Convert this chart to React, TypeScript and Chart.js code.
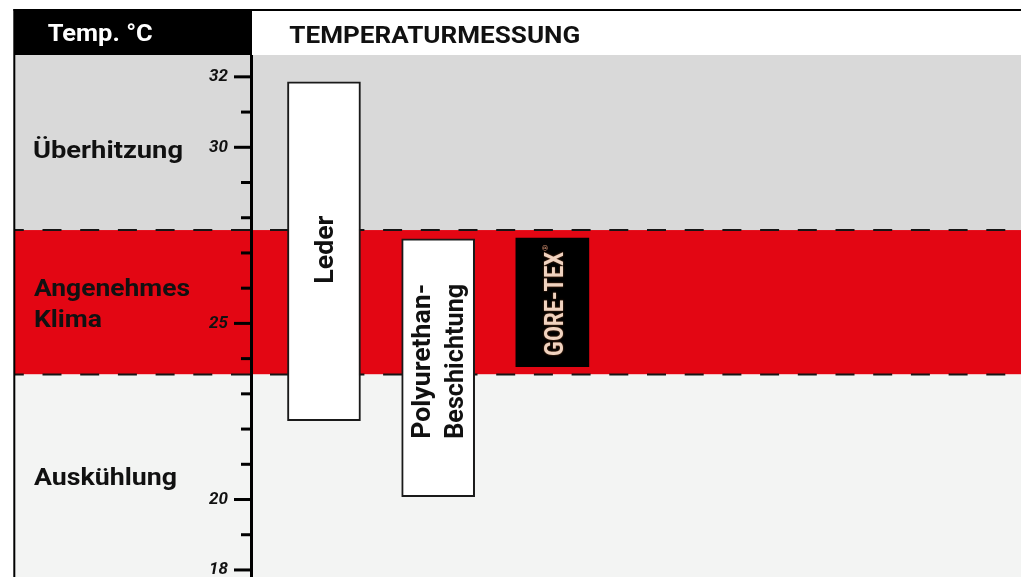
import React, { useEffect, useRef } from 'react';
import { Chart, registerables } from 'chart.js';

Chart.register(...registerables);

const CATEGORIES = ['Leder', 'Polyurethan-|Beschichtung', 'GORE-TEX'];
const CATEGORY_POS = [1, 2, 3];
const RANGE_LOW = [22.24, 20.08, 23.77];
const RANGE_HIGH = [31.86, 27.4, 27.42];
const BAND_LIMITS = [23.55, 27.65];
const BAND_LABELS = ['Überhitzung', 'Angenehmes|Klima', 'Auskühlung'];
const TICK_VALUES = [18, 19, 20, 21, 22, 23, 24, 25, 26, 27, 28, 29, 30, 31, 32];
const LABELED_TICKS = [18, 20, 25, 30, 32];
const Y_MIN = 17.8;
const Y_MAX = 32.62;
const X_MIN = 0.361;
const X_MAX = 7.104;
const TITLE = 'TEMPERATURMESSUNG';
const AXIS_TITLE = 'Temp. °C';

const FONT = 'Roboto, "DejaVu Sans", sans-serif';

function fitText(ctx: CanvasRenderingContext2D, text: string, x: number, y: number, size: number, width: number, color: string, rotate = false) {
  ctx.save();
  ctx.font = `bold ${size}px ${FONT}`;
  ctx.fillStyle = color;
  ctx.textAlign = 'left';
  ctx.textBaseline = 'alphabetic';
  const w = ctx.measureText(text).width;
  ctx.translate(x, y);
  if (rotate) ctx.rotate(-Math.PI / 2);
  ctx.scale(width / w, 1);
  ctx.fillText(text, 0, 0);
  ctx.restore();
}

function dashLine(ctx: CanvasRenderingContext2D, x0: number, x1: number, y: number, offset: number) {
  ctx.save();
  ctx.strokeStyle = '#151515';
  ctx.lineWidth = 2;
  ctx.setLineDash([19, 18.7]);
  ctx.lineDashOffset = offset;
  ctx.beginPath();
  ctx.moveTo(x0, y);
  ctx.lineTo(x1, y);
  ctx.stroke();
  ctx.restore();
}

const decorPlugin = {
  id: 'decor',
  beforeDraw(chart: any) {
    const { ctx, chartArea: ca, scales } = chart;
    const y = scales.y;
    const W = chart.width;
    const yTop = y.getPixelForValue(BAND_LIMITS[1]);
    const yBot = y.getPixelForValue(BAND_LIMITS[0]);
    ctx.save();
    ctx.fillStyle = '#d9d9d9';
    ctx.fillRect(14, ca.top, W - 14, yTop - ca.top);
    ctx.fillStyle = '#e30613';
    ctx.fillRect(14, yTop, W - 14, yBot - yTop);
    ctx.fillStyle = '#f3f4f3';
    ctx.fillRect(14, yBot, W - 14, chart.height - yBot);
    ctx.restore();

    [yTop, yBot].forEach((py) => {
      dashLine(ctx, 15, ca.left - 1, py, 10.2);
      dashLine(ctx, ca.left + 1, W, py, 19.7);
    });

    // band labels
    const [l1] = BAND_LABELS[0].split('|');
    fitText(ctx, l1, 33, y.getPixelForValue(30) + 10.3, 24, 150, '#111');
    const mid = (yTop + yBot) / 2;
    const [a, b] = BAND_LABELS[1].split('|');
    fitText(ctx, a, 34, mid - 5.8, 24, 156, '#111');
    fitText(ctx, b, 34, mid + 25, 24, 68, '#111');
    fitText(ctx, BAND_LABELS[2], 34, y.getPixelForValue(20) - 14.5, 24, 143, '#111');
  },
  afterDatasetsDraw(chart: any) {
    const { ctx } = chart;
    const meta = chart.getDatasetMeta(0);
    const els = meta.data;
    const info = els.map((el: any) => {
      const top = Math.min(el.y, el.base);
      const bot = Math.max(el.y, el.base);
      return { x: el.x, mid: (top + bot) / 2 };
    });
    // Leder
    fitText(ctx, CATEGORIES[0], info[0].x + 9, info[0].mid + 32.5, 25, 68, '#111', true);
    // Polyurethan
    const [p1, p2] = CATEGORIES[1].split('|');
    fitText(ctx, p1, info[1].x - 8, info[1].mid + 71, 25, 155, '#111', true);
    fitText(ctx, p2, info[1].x + 25, info[1].mid + 71, 25, 155, '#111', true);
    // GORE-TEX
    const gx = info[2].x + 10.5;
    const gy = info[2].mid + 53.5;
    ctx.save();
    ctx.shadowColor = 'rgba(150, 80, 40, 0.9)';
    ctx.shadowBlur = 2;
    fitText(ctx, CATEGORIES[2], gx, gy, 25, 104, '#f0d3c0', true);
    ctx.restore();
    ctx.save();
    ctx.translate(gx, gy);
    ctx.rotate(-Math.PI / 2);
    ctx.font = `bold 8px ${FONT}`;
    ctx.fillStyle = '#c9886a';
    ctx.fillText('®', 105, -15);
    ctx.restore();
  },
  afterDraw(chart: any) {
    const { ctx, chartArea: ca, scales } = chart;
    const y = scales.y;
    const W = chart.width;
    const H = chart.height;
    ctx.save();
    ctx.fillStyle = '#000';
    TICK_VALUES.forEach((v) => {
      const py = y.getPixelForValue(v);
      const len = LABELED_TICKS.includes(v) ? 17 : 10;
      ctx.fillRect(ca.left - len, py - 1.5, len, 3);
    });
    // header
    ctx.fillStyle = '#fff';
    ctx.fillRect(ca.left, 9, W - ca.left, ca.top - 9);
    ctx.fillStyle = '#000';
    ctx.fillRect(14, 9, ca.left + 1 - 14, ca.top - 9);
    ctx.fillRect(13.5, 9, W - 13.5, 2);
    ctx.fillRect(13.3, 9, 2, H - 9);
    ctx.restore();
    fitText(ctx, AXIS_TITLE, 47.7, 40.7, 24, 105, '#fff');
    fitText(ctx, TITLE, 289.3, 43.3, 24, 291, '#111');
  },
};

export default function App() {
  const ref = useRef<HTMLCanvasElement | null>(null);
  useEffect(() => {
    if (!ref.current) return;
    const chart = new Chart(ref.current, {
      type: 'bar',
      data: {
        datasets: [
          {
            data: CATEGORY_POS.map((x, i) => ({ x, y: [RANGE_LOW[i], RANGE_HIGH[i]] })) as any,
            backgroundColor: ['#ffffff', '#ffffff', '#000000'],
            borderColor: '#1a1a1a',
            borderWidth: [2, 2, 0] as any,
            borderSkipped: false,
            barThickness: 73,
          },
        ],
      },
      options: {
        animation: false,
        responsive: true,
        maintainAspectRatio: false,
        layout: { padding: { left: 15, top: 55, right: 0, bottom: 0 } },
        plugins: { legend: { display: false }, tooltip: { enabled: false } },
        scales: {
          x: { type: 'linear', display: false, offset: false, bounds: 'data', min: X_MIN, max: X_MAX },
          y: {
            type: 'linear',
            position: 'left',
            min: Y_MIN,
            max: Y_MAX,
            afterFit: (s: any) => {
              s.width = 236;
              s.paddingTop = 0;
              s.paddingBottom = 0;
            },
            afterBuildTicks: (s: any) => {
              s.ticks = TICK_VALUES.map((v) => ({ value: v }));
            },
            ticks: {
              autoSkip: false,
              padding: 5,
              color: '#111',
              font: { family: FONT, size: 17, style: 'italic', weight: 'bold' },
              callback: (v: any) => (LABELED_TICKS.includes(Number(v)) ? String(v) : ''),
            },
            grid: { display: false, drawTicks: true, tickLength: 18 },
            border: { display: true, color: '#000', width: 3 },
          },
        },
      } as any,
      plugins: [decorPlugin],
    });
    return () => chart.destroy();
  }, []);
  return (
    <div style={{ position: 'absolute', left: 0, top: 0, width: 1021, height: 577 }}>
      <canvas ref={ref} />
    </div>
  );
}
